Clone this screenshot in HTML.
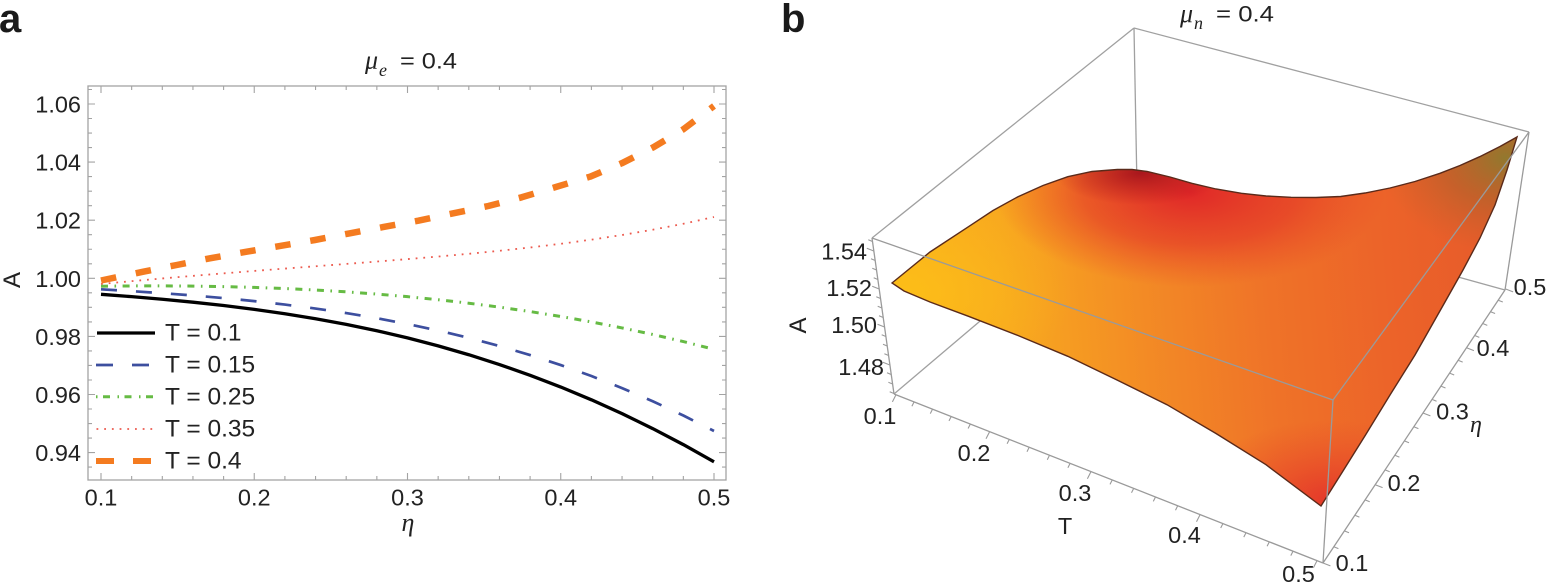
<!DOCTYPE html>
<html><head><meta charset="utf-8"><style>
html,body{margin:0;padding:0;background:#fff;width:1548px;height:588px;overflow:hidden;}
svg{display:block;}
.s{font-family:"Liberation Sans",sans-serif;}
.g{font-family:"Liberation Serif",serif;font-style:italic;}
</style></head><body>
<svg width="1548" height="588" viewBox="0 0 1548 588" xmlns="http://www.w3.org/2000/svg" overflow="hidden">
<defs>
<clipPath id="ca"><rect x="88" y="86" width="638" height="394"/></clipPath>
<linearGradient id="sb" gradientUnits="userSpaceOnUse" x1="892" y1="300" x2="1510" y2="250">
<stop offset="0" stop-color="#fbb71b"/><stop offset="0.18" stop-color="#f8a91f"/><stop offset="0.4" stop-color="#f38b25"/><stop offset="0.6" stop-color="#ef7328"/><stop offset="0.8" stop-color="#ec6329"/><stop offset="1" stop-color="#e65a2a"/>
</linearGradient>
<radialGradient id="gRed"><stop offset="0" stop-color="#df2228" stop-opacity="0.95"/><stop offset="0.55" stop-color="#e33228" stop-opacity="0.6"/><stop offset="1" stop-color="#e84028" stop-opacity="0"/></radialGradient>
<radialGradient id="gDark"><stop offset="0" stop-color="#9e0f1b" stop-opacity="0.85"/><stop offset="1" stop-color="#b0121c" stop-opacity="0"/></radialGradient>
<radialGradient id="gOl"><stop offset="0" stop-color="#8e7a2e" stop-opacity="0.95"/><stop offset="0.5" stop-color="#b0622a" stop-opacity="0.6"/><stop offset="1" stop-color="#c0602a" stop-opacity="0"/></radialGradient>
<radialGradient id="gFr"><stop offset="0" stop-color="#e3322a" stop-opacity="0.9"/><stop offset="1" stop-color="#e8452a" stop-opacity="0"/></radialGradient>
<radialGradient id="gYl"><stop offset="0" stop-color="#fdbf17" stop-opacity="0.85"/><stop offset="1" stop-color="#fbb81a" stop-opacity="0"/></radialGradient>
<clipPath id="cs"><path id="sp" d="M892,283 L930,252 968.5,226.7 993,210.5 1018,196.7 1043,185.5 1067.8,176.7 1092,171.5 1117.4,169.5 1132,169.5 1147,171.5 1170,177 1191.8,183.3 1216,189 1241.5,193.3 1266,196 1291,197.3 1316,197.5 1340.7,196.5 1365,193 1390,188 1415,181.5 1440,173.3 1460,165.5 1479.7,156.7 1500,146.5 1517,137 L1507,170 1495,205 1480,238 1463,270 1445,302 1415,355 1390,395 1365.5,435 1343,471 1321,506 L1266,464.7 1216,433.5 1167,404.7 1117,380 1067.8,356.3 1018,335.5 968.5,316.3 930,302 904,291 Z"/></clipPath>
</defs>
<rect width="1548" height="588" fill="#fff"/>

<!-- ============ PANEL A ============ -->
<text x="-1" y="32" class="s" font-size="40" font-weight="bold" fill="#1a1a1a">a</text>
<text x="365" y="68.5" class="g" font-size="26" fill="#222">μ</text>
<text x="379" y="76" class="g" font-size="18" fill="#222">e</text>
<text x="400" y="68.3" class="s" font-size="22" fill="#222" textLength="57" lengthAdjust="spacingAndGlyphs">= 0.4</text>

<rect x="88" y="86" width="638" height="394" fill="none" stroke="#a3a3a3" stroke-width="1.3"/>
<g stroke="#a3a3a3" stroke-width="1.1" fill="none">
<path d="M101 480v-7M254.25 480v-7M407.5 480v-7M560.75 480v-7M714 480v-7M101 86v7M254.25 86v7M407.5 86v7M560.75 86v7M714 86v7"/>
<path d="M131.65 480v-4M162.3 480v-4M192.95 480v-4M223.6 480v-4M284.9 480v-4M315.55 480v-4M346.2 480v-4M376.85 480v-4M438.15 480v-4M468.8 480v-4M499.45 480v-4M530.1 480v-4M591.4 480v-4M622.05 480v-4M652.7 480v-4M683.35 480v-4
M131.65 86v4M162.3 86v4M192.95 86v4M223.6 86v4M284.9 86v4M315.55 86v4M346.2 86v4M376.85 86v4M438.15 86v4M468.8 86v4M499.45 86v4M530.1 86v4M591.4 86v4M622.05 86v4M652.7 86v4M683.35 86v4"/>
<path d="M88 104h7M88 162.1h7M88 220.2h7M88 278.3h7M88 336.4h7M88 394.5h7M88 452.6h7M726 104h-7M726 162.1h-7M726 220.2h-7M726 278.3h-7M726 336.4h-7M726 394.5h-7M726 452.6h-7"/>
<path d="M88 89.5h4M88 118.5h4M88 133.05h4M88 147.6h4M88 176.6h4M88 191.15h4M88 205.7h4M88 234.7h4M88 249.25h4M88 263.8h4M88 292.8h4M88 307.35h4M88 321.9h4M88 350.9h4M88 365.45h4M88 380h4M88 409h4M88 423.55h4M88 438.1h4M88 467.1h4
M726 89.5h-4M726 118.5h-4M726 133.05h-4M726 147.6h-4M726 176.6h-4M726 191.15h-4M726 205.7h-4M726 234.7h-4M726 249.25h-4M726 263.8h-4M726 292.8h-4M726 307.35h-4M726 321.9h-4M726 350.9h-4M726 365.45h-4M726 380h-4M726 409h-4M726 423.55h-4M726 438.1h-4M726 467.1h-4"/>
</g>

<g class="s" font-size="23.5" fill="#222" text-anchor="end">
<text x="81" y="112.5">1.06</text>
<text x="81" y="170.6">1.04</text>
<text x="81" y="228.7">1.02</text>
<text x="81" y="286.8">1.00</text>
<text x="81" y="344.9">0.98</text>
<text x="81" y="403">0.96</text>
<text x="81" y="461.1">0.94</text>
</g>
<g class="s" font-size="23.5" fill="#222" text-anchor="middle">
<text x="101" y="505.7">0.1</text>
<text x="254.25" y="505.7">0.2</text>
<text x="407.5" y="505.7">0.3</text>
<text x="560.75" y="505.7">0.4</text>
<text x="714" y="505.7">0.5</text>
</g>
<text x="408" y="531" class="g" font-size="26" fill="#222" text-anchor="middle">η</text>
<text transform="translate(20,280) rotate(-90)" class="s" font-size="24" fill="#222" text-anchor="middle">A</text>

<g clip-path="url(#ca)" fill="none" stroke-linejoin="round">
<polyline points="101,284 131.65,281.16 162.3,278.45 192.95,275.85 223.6,273.35 254.25,270.93 284.9,268.57 315.55,266.25 346.2,263.93 376.85,261.57 407.5,259.12 438.15,256.55 468.8,253.79 499.45,250.79 530.1,247.49 560.75,243.8 591.4,239.67 622.05,235.01 652.7,229.74 683.35,223.77 714,217" stroke="#ec5a4e" stroke-width="1.8" stroke-dasharray="1.8 5.9"/>
<polyline points="101,286.2 131.65,285.92 162.3,285.87 192.95,286.1 223.6,286.6 254.25,287.41 284.9,288.54 315.55,290.01 346.2,291.84 376.85,294.06 407.5,296.68 438.15,299.71 468.8,303.2 499.45,307.14 530.1,311.56 560.75,316.48 591.4,321.93 622.05,327.91 652.7,334.46 683.35,341.58 714,349.3" stroke="#66bb44" stroke-width="3" stroke-dasharray="7 6.5 1.6 6.5"/>
<polyline points="101,289.3 131.65,291.13 162.3,293.17 192.95,295.47 223.6,298.1 254.25,301.12 284.9,304.58 315.55,308.55 346.2,313.07 376.85,318.21 407.5,324.02 438.15,330.56 468.8,337.88 499.45,346.04 530.1,355.08 560.75,365.07 591.4,376.04 622.05,388.09 652.7,401.22 683.35,415.51 714,431" stroke="#3d4f9f" stroke-width="2.7" stroke-dasharray="16 19"/>
<polyline points="101,294.3 131.65,296.65 162.3,299.26 192.95,302.2 223.6,305.54 254.25,309.37 284.9,313.74 315.55,318.72 346.2,324.36 376.85,330.74 407.5,337.89 438.15,345.88 468.8,354.74 499.45,364.53 530.1,375.28 560.75,387.03 591.4,399.8 622.05,413.65 652.7,428.58 683.35,444.62 714,461.8" stroke="#000" stroke-width="3.3"/>
<polyline points="101,280.5 143.3,271.7 176.7,265 210,258.3 246.7,251.7 281.7,245.7 315,240 350,233.3 385,226.7 418.3,220.7 453.3,213.3 488.3,206 521.7,197.3 555,187.3 590,176.7 621.7,163.3 653.3,147.3 683.3,129.3 714,106" stroke="#f47b20" stroke-width="6.5" stroke-dasharray="15.5 20"/>
</g>

<!-- legend -->
<g fill="none">
<line x1="97" y1="333" x2="155" y2="333" stroke="#000" stroke-width="3.3"/>
<line x1="96" y1="365" x2="151" y2="365" stroke="#3d4f9f" stroke-width="2.7" stroke-dasharray="17 19"/>
<line x1="96" y1="396.7" x2="154" y2="396.7" stroke="#66bb44" stroke-width="3" stroke-dasharray="1.5 5.5 7 7.5"/>
<line x1="96.5" y1="429" x2="154" y2="429" stroke="#ec5a4e" stroke-width="1.8" stroke-dasharray="1.8 5.9"/>
<line x1="96" y1="461" x2="151" y2="461" stroke="#f47b20" stroke-width="6" stroke-dasharray="18 19"/>
</g>
<g class="s" font-size="24.5" fill="#222">
<text x="165" y="340.7">T = 0.1</text>
<text x="165" y="372.7">T = 0.15</text>
<text x="165" y="404.7">T = 0.25</text>
<text x="165" y="436.7">T = 0.35</text>
<text x="165" y="468.5">T = 0.4</text>
</g>

<!-- ============ PANEL B ============ -->
<text x="781" y="32" class="s" font-size="40" font-weight="bold" fill="#1a1a1a">b</text>
<text x="1180" y="22" class="g" font-size="26" fill="#222">μ</text>
<text x="1194" y="29" class="g" font-size="18" fill="#222">n</text>
<text x="1216" y="21.7" class="s" font-size="22" fill="#222" textLength="58" lengthAdjust="spacingAndGlyphs">= 0.4</text>

<!-- back box edges -->
<g stroke="#a0a0a0" stroke-width="1.3" fill="none">
<line x1="872" y1="238" x2="1134" y2="28"/>
<line x1="1134" y1="28" x2="1529" y2="132"/>
<line x1="1134" y1="28" x2="1137" y2="188"/>
<line x1="894" y1="394" x2="1137" y2="188"/>
<line x1="1137" y1="188" x2="1505" y2="290"/>
</g>

<!-- surface -->
<rect x="880" y="130" width="650" height="390" fill="url(#sb)" clip-path="url(#cs)"/>
<g clip-path="url(#cs)">
<ellipse cx="905" cy="292" rx="170" ry="95" fill="url(#gYl)"/>
<ellipse cx="1190" cy="192" rx="195" ry="95" fill="url(#gRed)"/>
<ellipse cx="1140" cy="173" rx="85" ry="32" fill="url(#gDark)"/>
<ellipse cx="1505" cy="158" rx="125" ry="95" fill="url(#gOl)"/>
<ellipse cx="1330" cy="500" rx="140" ry="80" fill="url(#gFr)"/>
</g>
<use href="#sp" fill="none" stroke="#5a2a1a" stroke-width="1.4"/>

<!-- front box edges -->
<g stroke="#9a9a9a" stroke-width="1.3" fill="none">
<line x1="872" y1="238" x2="1333" y2="400"/>
<line x1="1333" y1="400" x2="1529" y2="132"/>
<line x1="1333" y1="400" x2="1323" y2="563"/>
<line x1="872" y1="238" x2="894" y2="394"/>
<line x1="1529" y1="132" x2="1505" y2="290"/>
<line x1="894" y1="394" x2="1323" y2="563"/>
<line x1="1323" y1="563" x2="1505" y2="290"/>
</g>
<!-- ticks panel b -->
<g stroke="#9a9a9a" stroke-width="1.1" fill="none">
<path d="M896 394.8l-3.6 7.1M989.6 431.7l-3.6 7.1M1091 471.6l-3.6 7.1M1200.1 514.6l-3.6 7.1M1317 560.7l-3.6 7.1"/>
<path d="M914.1 401.9l-2.2 4.4M932.5 409.2l-2.2 4.4M951.2 416.5l-2.2 4.4M970.3 424.1l-2.2 4.4M1009.3 439.4l-2.2 4.4M1029.2 447.3l-2.2 4.4M1049.5 455.3l-2.2 4.4M1070.1 463.4l-2.2 4.4M1112.2 480l-2.2 4.4M1133.7 488.4l-2.2 4.4M1155.5 497l-2.2 4.4M1177.7 505.8l-2.2 4.4M1222.9 523.6l-2.2 4.4M1246 532.7l-2.2 4.4M1269.3 541.9l-2.2 4.4M1293 551.2l-2.2 4.4"/>
<path d="M1323 563l7.4 2.9M1375.2 484.75l7.4 2.9M1423 413l7.4 2.9M1466.5 347.75l7.4 2.9M1505.7 289l7.4 2.9"/>
<path d="M1333.8 546.8l4.6 1.85M1344.4 530.9l4.6 1.85M1354.8 515.3l4.6 1.85M1365.1 499.9l4.6 1.85M1385.1 469.9l4.6 1.85M1394.8 455.3l4.6 1.85M1404.4 440.9l4.6 1.85M1413.8 426.8l4.6 1.85M1432 399.4l4.6 1.85M1440.9 386.1l4.6 1.85M1449.6 373.1l4.6 1.85M1458.1 360.3l4.6 1.85M1474.7 335.5l4.6 1.85M1482.7 323.5l4.6 1.85M1490.5 311.7l4.6 1.85M1498.2 300.2l4.6 1.85"/>
<path d="M873.8 251l-7 -2.8M879.2 289l-7 -2.8M884.5 327l-7 -2.8M889.9 365l-7 -2.8"/>
<path d="M872.5 241.5l-4.2 -1.7M875.2 260.5l-4.2 -1.7M876.5 270l-4.2 -1.7M877.9 279.5l-4.2 -1.7M880.5 298.5l-4.2 -1.7M881.9 308l-4.2 -1.7M883.2 317.5l-4.2 -1.7M885.9 336.5l-4.2 -1.7M887.2 346l-4.2 -1.7M888.6 355.5l-4.2 -1.7M891.2 374.5l-4.2 -1.7M892.6 384l-4.2 -1.7M893.9 393.5l-4.2 -1.7"/>
</g>

<g class="s" font-size="23.5" fill="#222" text-anchor="end">
<text x="867" y="259.5">1.54</text>
<text x="872" y="296">1.52</text>
<text x="877" y="333">1.50</text>
<text x="884" y="375">1.48</text>
</g>
<g class="s" font-size="23.5" fill="#222" text-anchor="middle">
<text x="880" y="424">0.1</text>
<text x="974" y="461">0.2</text>
<text x="1075" y="501">0.3</text>
<text x="1184.5" y="543">0.4</text>
<text x="1298.5" y="582">0.5</text>
<text x="1352" y="571">0.1</text>
<text x="1404" y="491">0.2</text>
<text x="1452.5" y="419.7">0.3</text>
<text x="1493" y="356">0.4</text>
<text x="1530" y="295">0.5</text>
<text x="1065" y="534">T</text>
</g>
<text x="1476" y="432" class="g" font-size="24" fill="#222" text-anchor="middle">η</text>
<text transform="translate(806,325.5) rotate(-90)" class="s" font-size="24" fill="#222" text-anchor="middle">A</text>
</svg>
</body></html>
